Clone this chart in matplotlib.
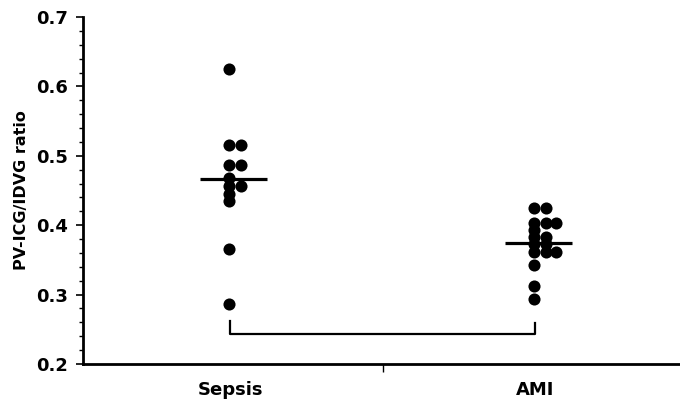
import matplotlib
matplotlib.use("Agg")
import matplotlib.pyplot as plt
from matplotlib.ticker import MultipleLocator, FixedLocator

plt.rcParams['font.family'] = ['DejaVu Sans']

categories = ["Sepsis", "AMI"]
sepsis_values = [0.625, 0.515, 0.515, 0.487, 0.487, 0.468, 0.456, 0.456, 0.445, 0.435, 0.365, 0.286]
sepsis_cols = [0, 0, 1, 0, 1, 0, 0, 1, 0, 0, 0, 0]
ami_values = [0.425, 0.425, 0.403, 0.403, 0.403, 0.393, 0.383, 0.383, 0.373, 0.373,
              0.362, 0.362, 0.362, 0.342, 0.313, 0.293]
ami_cols = [0, 1, 0, 1, 2, 0, 0, 1, 0, 1, 0, 1, 2, 0, 0, 0]
medians = [0.467, 0.374]
yticks = [0.2, 0.3, 0.4, 0.5, 0.6, 0.7]

fig = plt.figure(figsize=(6.8, 4.04), dpi=100)
ax = fig.add_axes([83/680, 40/404, 597/680, 347/404])

col_off = [-0.003, 0.036, 0.07]
positions = [1, 2]
for pos, vals, cols in [(1, sepsis_values, sepsis_cols), (2, ami_values, ami_cols)]:
    xs = [pos + col_off[c] for c in cols]
    ax.plot(xs, vals, 'o', color='black', markersize=8.7, markeredgewidth=0, clip_on=False)

for pos, m in zip(positions, medians):
    ax.plot([pos - 0.10, pos + 0.12], [m, m], color='black', lw=2.3, solid_capstyle='butt')

# significance bracket
ax.plot([1, 1, 2, 2], [0.262, 0.243, 0.243, 0.259], color='black', lw=1.6)

ax.set_xlim(0.518, 2.475)
ax.set_ylim(0.2, 0.7)
ax.set_yticks(yticks)
ax.set_yticklabels([f"{v:.1f}" for v in yticks], fontsize=13, fontweight='bold')
ax.yaxis.set_minor_locator(MultipleLocator(0.02))
ax.set_xticks(positions)
ax.set_xticklabels(categories, fontsize=13, fontweight='bold')
ax.xaxis.set_minor_locator(FixedLocator([1.5]))
ax.tick_params(axis='x', which='major', length=0, pad=12)
ax.tick_params(axis='x', which='minor', length=6, width=1, direction='out')
ax.tick_params(axis='y', which='major', length=5, width=1.2, pad=6)
ax.tick_params(axis='y', which='minor', length=3, width=1)

for s in ['top', 'right']:
    ax.spines[s].set_visible(False)
for s in ['left', 'bottom']:
    ax.spines[s].set_linewidth(2)

ax.set_ylabel("PV-ICG/IDVG ratio", fontsize=11.5, fontweight='bold', labelpad=5)

fig.savefig("out.png", dpi=100)
